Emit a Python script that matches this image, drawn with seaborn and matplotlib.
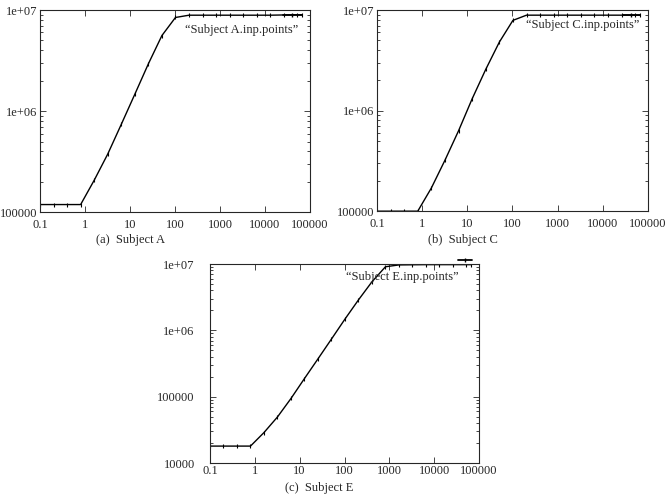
import pandas as pd
import seaborn as sns
import matplotlib.pyplot as plt
from matplotlib.ticker import FixedLocator, LogLocator, NullFormatter, NullLocator

# x values: doubling from 0.1 (same for all subjects)
xs = [0.1, 0.2, 0.4, 0.8, 1.6, 3.2, 6.4, 12.8, 25.6, 51.2, 102.4, 204.8, 409.6,
      819.2, 1638.4, 3276.8, 6553.6, 13107.2, 26214.4, 52428.8, 65536]

subject_a = [1.19e5, 1.19e5, 1.19e5, 1.19e5, 2.07e5, 3.76e5, 7.4e5, 1.47e6, 2.94e6,
             5.6e6, 8.45e6, 8.9e6, 8.9e6, 8.9e6, 8.9e6, 8.9e6, 8.9e6, 8.9e6,
             8.95e6, 9.0e6, 9.0e6]
subject_c = [1.0e5, 1.0e5, 1.0e5, 1.0e5, 1.70e5, 3.21e5, 6.3e5, 1.31e6, 2.57e6,
             4.8e6, 7.9e6, 8.9e6, 8.9e6, 8.9e6, 8.9e6, 8.9e6, 8.9e6, 8.9e6,
             8.9e6, 8.9e6, 8.9e6]
subject_e = [1.8e4, 1.8e4, 1.8e4, 1.8e4, 2.88e4, 4.95e4, 9.4e4, 1.88e5, 3.72e5,
             7.4e5, 1.48e6, 2.88e6, 5.4e6, 9.1e6, 9.7e6, 9.75e6, 9.8e6, 9.8e6,
             9.8e6, 9.8e6, 9.8e6]

xtick_vals = [0.1, 1, 10, 100, 1000, 10000, 100000]
xtick_labels = ['0.1', '1', '10', '100', '1000', '10000', '100000']

sns.set_style("ticks")
plt.rcParams['font.family'] = ['Liberation Serif', 'DejaVu Serif']

fig = plt.figure(figsize=(6.69, 5.04), dpi=100)


def draw(ax, ys, name, ymin, yticks, ylabels, key_text_pos, key_line, caption, cap_xy,
         xpad, ypad):
    df = pd.DataFrame({'x': xs, 'y': ys})
    sns.lineplot(x='x', y='y', data=df, ax=ax, color='black', lw=1.0,
                 marker='|', markersize=3.5, markeredgewidth=0.8, markeredgecolor='black')
    ax.set_xscale('log')
    ax.set_yscale('log')
    ax.set_xlim(0.1, 100000)
    ax.set_ylim(ymin, 1e7)
    ax.xaxis.set_major_locator(FixedLocator(xtick_vals))
    ax.set_xticklabels(xtick_labels)
    ax.yaxis.set_major_locator(FixedLocator(yticks))
    ax.set_yticklabels(ylabels)
    ax.xaxis.set_minor_locator(NullLocator())
    ax.yaxis.set_minor_locator(LogLocator(base=10, subs=range(2, 10)))
    ax.yaxis.set_minor_formatter(NullFormatter())
    ax.tick_params(which='both', direction='in', top=True, right=True, labelsize=9,
                   width=0.6)
    ax.tick_params(axis='y', pad=ypad)
    ax.tick_params(axis='x', pad=xpad)
    ax.tick_params(which='major', length=4)
    ax.tick_params(which='minor', length=2)
    for s in ax.spines.values():
        s.set_linewidth(0.8)
    ax.set_xlabel(None)
    ax.set_ylabel(None)
    # gnuplot-style key
    ax.text(key_text_pos[0], key_text_pos[1], '\u201c' + name + '.inp.points\u201d',
            transform=ax.transAxes, ha='right', va='center', fontsize=9)
    ax.plot(key_line[0], key_line[1], transform=ax.transAxes, color='black', lw=1.3,
            clip_on=False)
    ax.plot([sum(key_line[0]) / 2], [key_line[1][0]], transform=ax.transAxes,
            marker='|', color='black', markersize=3.5, clip_on=False)
    fig.text(cap_xy[0], cap_xy[1], caption, ha='center', va='center', fontsize=9)


ax1 = fig.add_axes([0.0598, 0.579, 0.4036, 0.401])
draw(ax1, subject_a, 'Subject A', 1e5, [1e5, 1e6, 1e7], ['100000', '1e+06', '1e+07'],
     (0.955, 0.90), ([0.90, 0.97], [0.976, 0.976]), '(a)  Subject A',
     (130 / 669, 1 - 240 / 504), 5, 2)

ax2 = fig.add_axes([0.5635, 0.581, 0.405, 0.399])
draw(ax2, subject_c, 'Subject C', 1e5, [1e5, 1e6, 1e7], ['100000', '1e+06', '1e+07'],
     (0.97, 0.925), ([0.907, 0.97], [0.975, 0.975]), '(b)  Subject C',
     (463 / 669, 1 - 240 / 504), 5, 2)

ax3 = fig.add_axes([0.3139, 0.0813, 0.4021, 0.3948])
draw(ax3, subject_e, 'Subject E', 1e4, [1e4, 1e5, 1e6, 1e7],
     ['10000', '100000', '1e+06', '1e+07'],
     (0.925, 0.935), ([0.922, 0.974], [1.02, 1.02]), '(c)  Subject E',
     (319 / 669, 1 - 488 / 504), 1.5, 11)

plt.savefig('out.png', dpi=100)
